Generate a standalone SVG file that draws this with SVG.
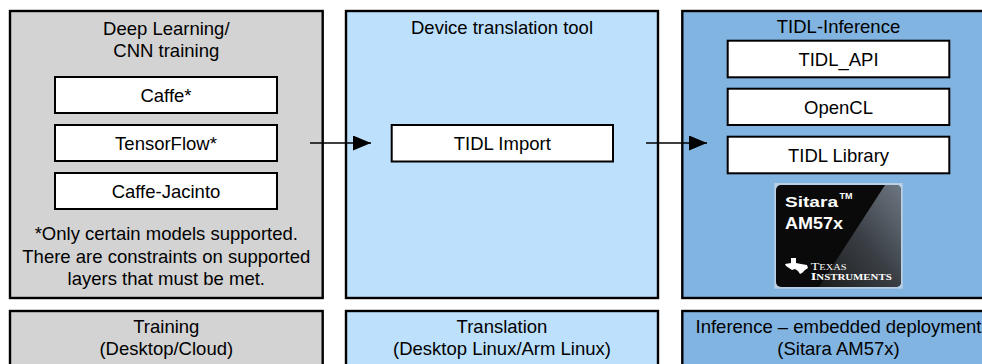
<svg xmlns="http://www.w3.org/2000/svg" width="982" height="364" viewBox="0 0 982 364">
<style>
  .panel { stroke: #000; stroke-width: 2.4; }
  .gray { fill: #D3D3D3; }
  .lblue { fill: #BDE0FD; }
  .mblue { fill: #82B4E1; }
  .box { fill: #fff; stroke: #000; stroke-width: 2; }
  .t { font-family: "Liberation Sans", Arial, sans-serif; font-size: 18.5px; fill: #000; text-anchor: middle; }
  .conn { stroke: #000; stroke-width: 1.6; fill: none; }
  .chip { font-family: "Liberation Sans", Arial, sans-serif; font-weight: bold; fill: #fff; }
  .ti { font-family: "Liberation Serif", "Times New Roman", serif; fill: #fff; }
</style>
<defs>
  <marker id="arrow" viewBox="0 0 18 15" refX="18" refY="7.5" markerWidth="18" markerHeight="15" markerUnits="userSpaceOnUse" orient="auto">
    <path d="M0,0 L18,7.5 L0,15 Z" fill="#000"/>
  </marker>
  <clipPath id="chipClip">
    <rect x="776" y="185" width="125" height="102" rx="5"/>
  </clipPath>
  <linearGradient id="chipGrad" x1="0" y1="1" x2="1" y2="0">
    <stop offset="0" stop-color="#1c1c1c"/>
    <stop offset="0.5" stop-color="#3a3f45"/>
    <stop offset="1" stop-color="#6d7782"/>
  </linearGradient>
</defs>
<rect width="982" height="364" fill="#fff"/>

<g id="training">
  <rect class="panel gray" x="10" y="11" width="312.7" height="287"/>
  <text class="t" x="166.3" y="34.5">Deep Learning/</text>
  <text class="t" x="166.3" y="56.5">CNN training</text>
  <g id="caffe">
    <rect class="box" x="55" y="77" width="222" height="36"/>
    <text class="t" x="166" y="101.6">Caffe*</text>
  </g>
  <g id="tensorflow">
    <rect class="box" x="55" y="125" width="222" height="36"/>
    <text class="t" x="166" y="149.6">TensorFlow*</text>
  </g>
  <g id="caffe-jacinto">
    <rect class="box" x="55" y="173" width="222" height="36"/>
    <text class="t" x="166" y="197.6">Caffe-Jacinto</text>
  </g>
  <text class="t" x="166.3" y="239.5">*Only certain models supported.</text>
  <text class="t" x="166.3" y="262.5">There are constraints on supported</text>
  <text class="t" x="166.3" y="285">layers that must be met.</text>
</g>

<g id="translation">
  <rect class="panel lblue" x="346" y="11" width="312" height="287"/>
  <text class="t" x="502" y="33.5">Device translation tool</text>
  <g id="tidl-import">
    <rect class="box" x="391.7" y="125" width="221.3" height="36.5"/>
    <text class="t" x="502.3" y="149.8">TIDL Import</text>
  </g>
</g>

<g id="inference">
  <rect class="panel mblue" x="682.3" y="11" width="313" height="287"/>
  <text class="t" x="838.5" y="32.5">TIDL-Inference</text>
  <g id="tidl-api">
    <rect class="box" x="727.7" y="40.7" width="221.6" height="36.6"/>
    <text class="t" x="838.5" y="65.5">TIDL_API</text>
  </g>
  <g id="opencl">
    <rect class="box" x="727.7" y="88.7" width="221.6" height="36.3"/>
    <text class="t" x="838.5" y="113.5">OpenCL</text>
  </g>
  <g id="tidl-library">
    <rect class="box" x="727.7" y="136.7" width="221.6" height="36.6"/>
    <text class="t" x="838.5" y="161.5">TIDL Library</text>
  </g>
  <g id="sitara-chip">
    <rect x="774.3" y="183" width="128.4" height="105.7" fill="#b9cfe3"/>
    <rect x="776" y="185" width="125" height="102" rx="5" fill="#0a0a0a"/>
    <polygon points="885,185 901,185 901,287 819,287" fill="url(#chipGrad)" clip-path="url(#chipClip)"/>
    <text class="chip" x="785" y="207.3" font-size="15.5" textLength="53" lengthAdjust="spacingAndGlyphs">Sitara</text>
    <text class="chip" x="839.5" y="199" font-size="9">TM</text>
    <text class="chip" x="785" y="228.7" font-size="17" textLength="58" lengthAdjust="spacingAndGlyphs">AM57x</text>
    <polygon points="791,258 796,258 796,263 801,264 807,265 808,268 805,270 802,273 800,274 798,271 795,269 792,270 789,268 786,266 785,264 791,263" fill="#fff"/>
    <text class="ti" x="810.7" y="269.7" font-size="7.5" textLength="36" lengthAdjust="spacingAndGlyphs"><tspan font-size="10">T</tspan>EXAS</text>
    <text class="ti" x="810.7" y="279.7" font-size="7.5" font-weight="bold" textLength="81" lengthAdjust="spacingAndGlyphs"><tspan font-size="10">I</tspan>NSTRUMENTS</text>
  </g>
</g>

<g id="training-footer">
  <rect class="panel gray" x="10" y="311" width="312.7" height="60"/>
  <text class="t" x="166.3" y="333">Training</text>
  <text class="t" x="166.3" y="355">(Desktop/Cloud)</text>
</g>
<g id="translation-footer">
  <rect class="panel lblue" x="346" y="311" width="312" height="60"/>
  <text class="t" x="502" y="333">Translation</text>
  <text class="t" x="502" y="355">(Desktop Linux/Arm Linux)</text>
</g>
<g id="inference-footer">
  <rect class="panel mblue" x="682.3" y="311" width="313" height="60"/>
  <text class="t" x="838.5" y="333">Inference – embedded deployment</text>
  <text class="t" x="838.5" y="355">(Sitara AM57x)</text>
</g>

<g id="connectors">
  <line class="conn" x1="310" y1="143" x2="371" y2="143" marker-end="url(#arrow)"/>
  <line class="conn" x1="646" y1="143" x2="707" y2="143" marker-end="url(#arrow)"/>
</g>
</svg>
